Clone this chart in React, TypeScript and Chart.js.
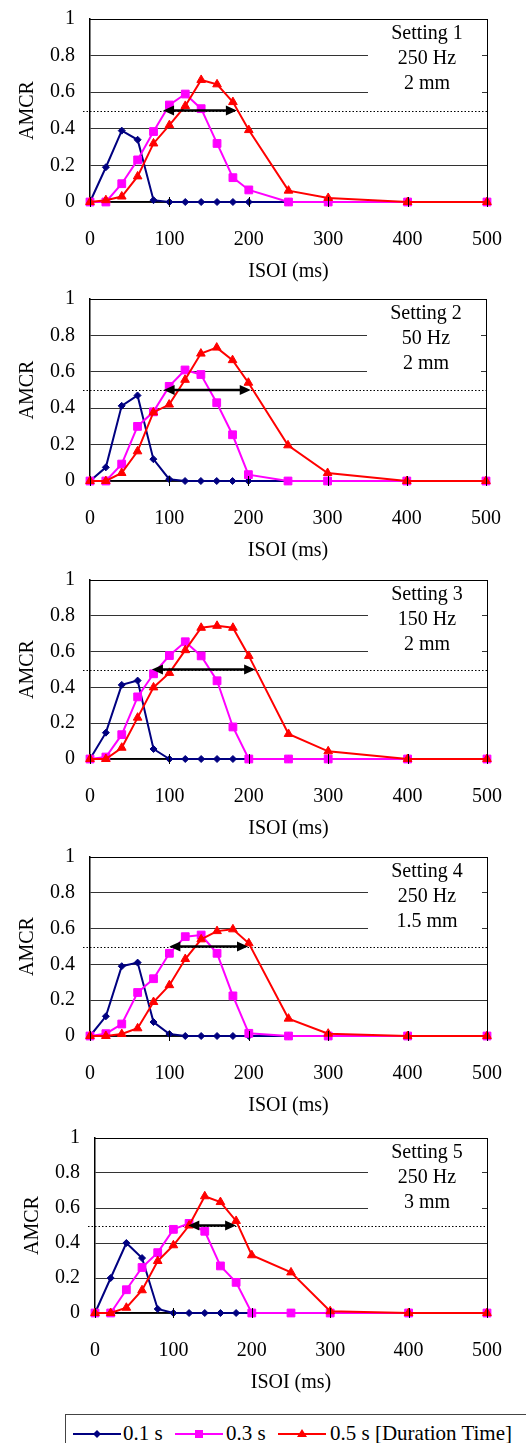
import React, { useEffect, useRef } from 'react';
import { Chart, registerables } from 'chart.js';

Chart.register(...registerables);

// ---------------- data ----------------
const isoi = [0, 20, 40, 60, 80, 100, 120, 140, 160, 180, 200, 250, 300, 400, 500];
const xTickValues = [0, 100, 200, 300, 400, 500];
const yTickValues = [0, 0.2, 0.4, 0.6, 0.8, 1];
const yTickLabels = ['0', '0.2', '0.4', '0.6', '0.8', '1'];
const seriesLabels = ['0.1 s', '0.3 s', '0.5 s'];
const legendSuffix = ' [Duration Time]';
const settingNames = ['Setting 1', 'Setting 2', 'Setting 3', 'Setting 4', 'Setting 5'];
const frequencies = ['250 Hz', '50 Hz', '150 Hz', '250 Hz', '250 Hz'];
const amplitudes = ['2 mm', '2 mm', '2 mm', '1.5 mm', '3 mm'];
const threshold = 0.5;
const arrowFrom = [92, 93, 78, 100, 119];
const arrowTo = [185, 203, 208, 199, 180];

const s1_01 = [0, 0.19, 0.39, 0.34, 0.01, 0, 0, 0, 0, 0, 0, 0, 0, 0, 0];
const s1_03 = [0, 0, 0.1, 0.23, 0.385, 0.53, 0.59, 0.51, 0.32, 0.133, 0.066, 0, 0, 0, 0];
const s1_05 = [0, 0.01, 0.03, 0.14, 0.32, 0.42, 0.525, 0.667, 0.643, 0.546, 0.393, 0.062, 0.022, 0, 0];

const s2_01 = [0, 0.075, 0.413, 0.47, 0.12, 0.01, 0, 0, 0, 0, 0, 0, 0, 0, 0];
const s2_03 = [0, 0, 0.093, 0.3, 0.38, 0.52, 0.61, 0.585, 0.43, 0.254, 0.035, 0, 0, 0, 0];
const s2_05 = [0, 0, 0.044, 0.163, 0.377, 0.42, 0.556, 0.7, 0.733, 0.664, 0.54, 0.196, 0.044, 0, 0];

const s3_01 = [0, 0.147, 0.414, 0.438, 0.056, 0, 0, 0, 0, 0, 0, 0, 0, 0, 0];
const s3_03 = [0, 0.011, 0.136, 0.347, 0.476, 0.578, 0.655, 0.576, 0.437, 0.179, 0, 0, 0, 0, 0];
const s3_05 = [0, 0, 0.063, 0.231, 0.4, 0.481, 0.608, 0.733, 0.744, 0.733, 0.576, 0.14, 0.043, 0, 0];

const s4_01 = [0, 0.11, 0.39, 0.41, 0.078, 0.011, 0, 0, 0, 0, 0, 0, 0, 0, 0];
const s4_03 = [0, 0.013, 0.067, 0.243, 0.32, 0.462, 0.555, 0.564, 0.462, 0.224, 0.015, 0, 0, 0, 0];
const s4_05 = [0, 0, 0.011, 0.043, 0.19, 0.284, 0.43, 0.54, 0.586, 0.596, 0.518, 0.097, 0.013, 0, 0];

const s5_01 = [0, 0.2, 0.4, 0.314, 0.023, 0, 0, 0, 0, 0, 0, 0, 0, 0, 0];
const s5_03 = [0, 0, 0.133, 0.26, 0.345, 0.478, 0.512, 0.467, 0.269, 0.175, 0, 0, 0, 0, 0];
const s5_05 = [0, 0, 0.03, 0.13, 0.297, 0.387, 0.5, 0.667, 0.634, 0.526, 0.33, 0.232, 0.01, 0, 0];

const panelSeries = [
  [s1_01, s1_03, s1_05],
  [s2_01, s2_03, s2_05],
  [s3_01, s3_03, s3_05],
  [s4_01, s4_03, s4_05],
  [s5_01, s5_03, s5_05],
];

// ---------------- layout / style ----------------
const plotTop = [19, 299, 580, 857, 1138];
const plotBottom = [202, 481, 759, 1036, 1313];
const plotLeft = [90, 90, 90, 90, 95];
const plotRight = [487, 486, 487, 487, 487];
const PAD_TOP = 19;
const XAXIS_H = 82;
const PAGE_W = 526;

const colors = ['#000080', '#FF00FF', '#FF0000'];
const pointStyles = ['rectRot', 'rect', 'triangle'];
const pointRadii = [3.5, 5.5, 5];
const FONT = '"Liberation Serif", "Times New Roman", serif';

function Panel({ idx }: { idx: number }) {
  const ref = useRef<HTMLCanvasElement>(null);
  const top = plotTop[idx] - PAD_TOP;
  const height = plotBottom[idx] - plotTop[idx] + PAD_TOP + XAXIS_H;

  useEffect(() => {
    if (!ref.current) return;
    const overlay = {
      id: 'overlay',
      beforeDatasetsDraw(chart: any) {
        const { ctx, chartArea: a, scales } = chart;
        const y = scales.y;
        ctx.save();
        // annotation box
        ctx.fillStyle = '#ffffff';
        ctx.fillRect(a.right - 119, a.top + 2, 114, 76);
        ctx.fillStyle = '#000';
        ctx.font = '20px ' + FONT;
        ctx.textAlign = 'center';
        ctx.textBaseline = 'middle';
        const cx = a.right - 60;
        [settingNames[idx], frequencies[idx], amplitudes[idx]].forEach((t, i) => {
          ctx.fillText(t, cx, a.top + 15 + 25 * i);
        });
        // dotted threshold line
        const yy = Math.round(y.getPixelForValue(threshold)) + 0.5;
        ctx.strokeStyle = '#000';
        ctx.lineWidth = 1;
        ctx.setLineDash([1.5, 2]);
        ctx.beginPath();
        ctx.moveTo(a.left - 7, yy);
        ctx.lineTo(a.right + 1, yy);
        ctx.stroke();
        ctx.setLineDash([]);
        ctx.restore();
      },
      afterDatasetsDraw(chart: any) {
        const { ctx, chartArea: a, scales } = chart;
        const x = scales.x;
        const y = scales.y;
        ctx.save();
        // frame top & right
        ctx.strokeStyle = '#000';
        ctx.lineWidth = 1;
        ctx.beginPath();
        ctx.moveTo(a.left, Math.round(a.top) + 0.5);
        ctx.lineTo(a.right, Math.round(a.top) + 0.5);
        ctx.moveTo(Math.round(a.right) + 0.5, a.top);
        ctx.lineTo(Math.round(a.right) + 0.5, a.bottom);
        ctx.stroke();
        // crossing x ticks
        ctx.beginPath();
        xTickValues.forEach((v) => {
          const px = Math.round(x.getPixelForValue(v)) + 0.5;
          ctx.moveTo(px, a.bottom - 5);
          ctx.lineTo(px, a.bottom + 5);
        });
        ctx.stroke();
        // double arrow
        const ay = y.getPixelForValue(threshold);
        const x1 = x.getPixelForValue(arrowFrom[idx]);
        const x2 = x.getPixelForValue(arrowTo[idx]);
        ctx.fillStyle = '#000';
        ctx.lineWidth = 2.5;
        ctx.beginPath();
        ctx.moveTo(x1 + 8, ay);
        ctx.lineTo(x2 - 8, ay);
        ctx.stroke();
        ctx.beginPath();
        ctx.moveTo(x1, ay);
        ctx.lineTo(x1 + 11, ay - 5);
        ctx.lineTo(x1 + 11, ay + 5);
        ctx.closePath();
        ctx.fill();
        ctx.beginPath();
        ctx.moveTo(x2, ay);
        ctx.lineTo(x2 - 11, ay - 5);
        ctx.lineTo(x2 - 11, ay + 5);
        ctx.closePath();
        ctx.fill();
        ctx.restore();
      },
    };

    const datasets = panelSeries[idx].map((vals, i) => ({
      label: seriesLabels[i],
      data: vals.map((v, j) => ({ x: isoi[j], y: v })),
      borderColor: colors[i],
      backgroundColor: colors[i],
      pointBackgroundColor: colors[i],
      pointBorderColor: colors[i],
      pointStyle: pointStyles[i],
      pointRadius: pointRadii[i],
      pointBorderWidth: 1,
      borderWidth: 2,
      tension: 0,
      order: 2 - i,
      clip: false as any,
    }));

    const chart = new Chart(ref.current, {
      type: 'line',
      data: { datasets },
      options: {
        animation: false,
        responsive: false,
        devicePixelRatio: 1,
        layout: { padding: { top: PAD_TOP, right: PAGE_W - plotRight[idx], left: 0, bottom: 0 } },
        plugins: { legend: { display: false }, tooltip: { enabled: false } },
        scales: {
          x: {
            type: 'linear',
            min: 0,
            max: 500,
            afterFit: (s: any) => {
              s.height = XAXIS_H;
              s.paddingLeft = 0;
              s.paddingRight = 0;
            },
            afterBuildTicks: (s: any) => { s.ticks = xTickValues.map((v) => ({ value: v })); },
            grid: { display: false, drawTicks: false },
            border: { display: true, color: '#000', width: 1.5 },
            ticks: { color: '#000', font: { family: FONT, size: 20 }, padding: 26, maxRotation: 0, autoSkip: false },
            title: { display: true, text: 'ISOI (ms)', color: '#000', font: { family: FONT, size: 20 }, padding: { top: 0, bottom: 0 } },
          },
          y: {
            min: 0,
            max: 1,
            afterFit: (s: any) => {
              s.width = plotLeft[idx];
              s.paddingTop = 0;
              s.paddingBottom = 0;
            },
            afterBuildTicks: (s: any) => { s.ticks = yTickValues.map((v) => ({ value: v })); },
            ticks: {
              color: '#000',
              font: { family: FONT, size: 20 },
              padding: 15,
              callback: (v: any) => {
                const k = yTickValues.findIndex((t) => Math.abs(t - Number(v)) < 1e-6);
                return k >= 0 ? yTickLabels[k] : '';
              },
            },
            grid: { color: '#333', lineWidth: 1, drawTicks: false },
            border: { display: true, color: '#000', width: 1.5 },
            title: { display: true, text: 'AMCR', color: '#000', font: { family: FONT, size: 20 }, padding: { top: plotLeft[idx] - 74, bottom: 0 } },
          },
        },
      } as any,
      plugins: [overlay],
    });
    return () => chart.destroy();
  }, [idx]);

  return (
    <canvas
      ref={ref}
      width={PAGE_W}
      height={height}
      style={{ position: 'absolute', left: 0, top, width: PAGE_W, height }}
    />
  );
}

function LegendSample({ left, color, shape }: { left: number; color: string; shape: string }) {
  const w = 48;
  const cy = 10;
  const cx = w / 2;
  let marker: any = null;
  if (shape === 'rectRot') marker = <polygon points={`${cx},${cy - 4} ${cx + 4},${cy} ${cx},${cy + 4} ${cx - 4},${cy}`} fill={color} />;
  else if (shape === 'rect') marker = <rect x={cx - 4} y={cy - 4} width={8} height={8} fill={color} />;
  else marker = <polygon points={`${cx},${cy - 5} ${cx + 5},${cy + 3} ${cx - 5},${cy + 3}`} fill={color} />;
  return (
    <svg width={w} height={20} style={{ position: 'absolute', left, top: 1424 }}>
      <line x1={0} y1={cy} x2={w} y2={cy} stroke={color} strokeWidth={2} />
      {marker}
    </svg>
  );
}

export default function App() {
  const textStyle = (left: number): React.CSSProperties => ({
    position: 'absolute',
    left,
    top: 1421,
    fontFamily: FONT,
    fontSize: 21,
    lineHeight: '24px',
    color: '#000',
    whiteSpace: 'nowrap',
  });
  return (
    <div style={{ position: 'absolute', left: 0, top: 0, width: PAGE_W, height: 1443, background: '#fff', overflow: 'hidden' }}>
      {panelSeries.map((_, i) => (
        <Panel key={i} idx={i} />
      ))}
      <div style={{ position: 'absolute', left: 65, top: 1414, width: 480, height: 40, border: '1px solid #444', boxSizing: 'border-box' }} />
      <LegendSample left={73} color={colors[0]} shape={pointStyles[0]} />
      <span style={textStyle(123)}>{seriesLabels[0]}</span>
      <LegendSample left={175} color={colors[1]} shape={pointStyles[1]} />
      <span style={textStyle(226)}>{seriesLabels[1]}</span>
      <LegendSample left={278} color={colors[2]} shape={pointStyles[2]} />
      <span style={textStyle(330)}>{seriesLabels[2] + legendSuffix}</span>
    </div>
  );
}
